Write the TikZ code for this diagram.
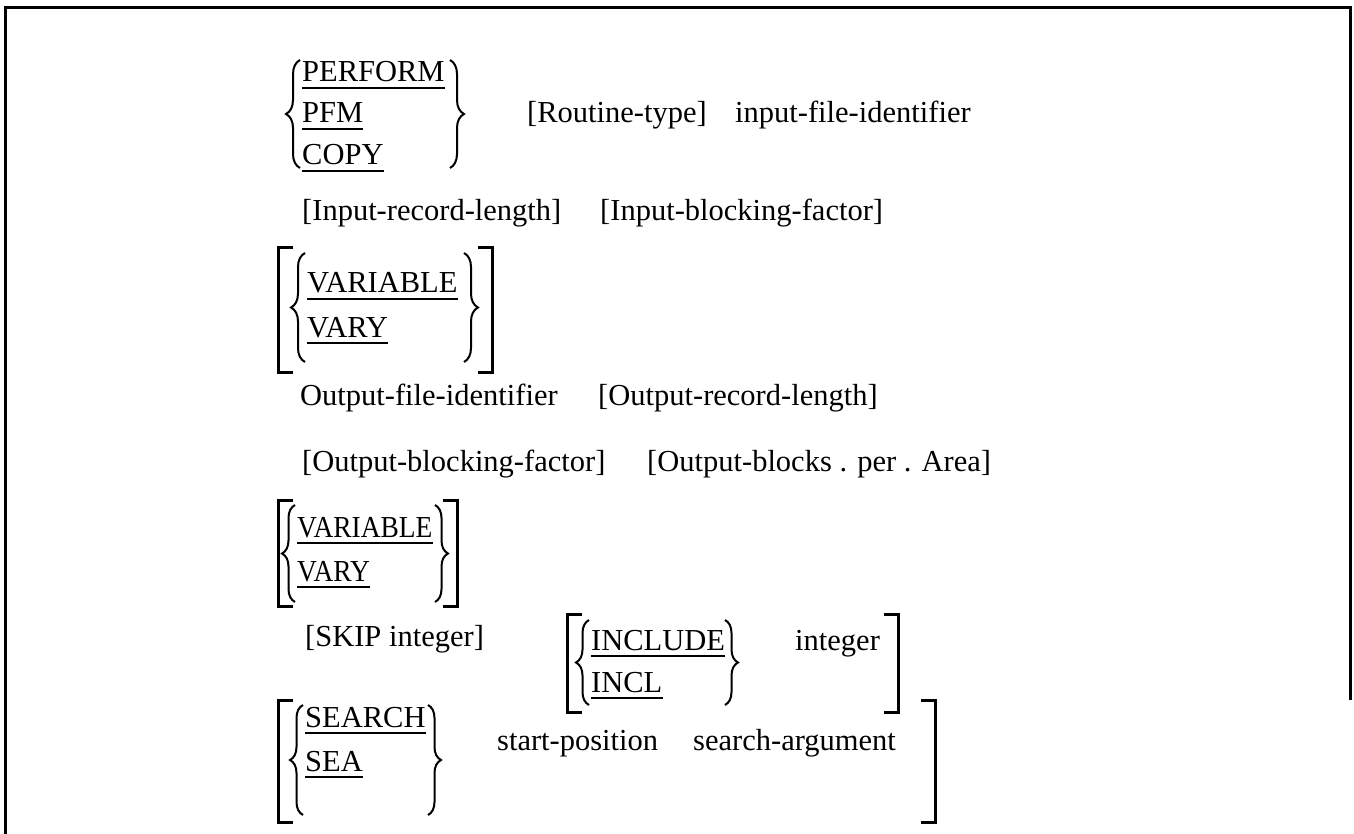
\documentclass[tikz,border=0pt]{standalone}
\usepackage{graphicx}
\usepackage{fontspec}
\setmainfont{Liberation Serif}
\usetikzlibrary{decorations.pathreplacing}
\begin{document}
\begin{tikzpicture}[x=1pt,y=-1pt,
  txt/.style={anchor=base west,inner sep=0pt,font=\fontsize{30.5}{36}\selectfont},
  ul/.style={line width=2.4pt},
  frame/.style={line width=3pt},
  brk/.style={line width=3pt},
  brc/.style={decorate,decoration={brace,amplitude=#1},line width=2pt},
]
\useasboundingbox (0,0) rectangle (1354,834);
\draw[frame] (5,834) -- (5,8) -- (1350,8) -- (1350,700);

% texts
\node[txt] (perform) at (302,82) {PERFORM};
\node[txt] (pfm) at (302,123) {PFM};
\node[txt] (copy) at (302,165) {COPY};
\node[txt] (rtype) at (527,123) {[Routine-type]};
\node[txt] (ifid) at (735,123) {input-file-identifier};
\node[txt] (irl) at (302,221) {[Input-record-length]};
\node[txt] (ibf) at (600,221) {[Input-blocking-factor]};
\node[txt] (varA) at (307,293) {VARIABLE};
\node[txt] (varyA) at (307,337) {VARY};
\node[txt] (ofid) at (300,405) {Output-file-identifier};
\node[txt] (orl) at (598,405) {[Output-record-length]};
\node[txt] (obf) at (302,471) {[Output-blocking-factor]};
\node[txt] (obpa) at (647,471) {[Output-blocks . per . Area]};
\node[txt] (varB) at (297,537) {\scalebox{0.9}[1]{VARIABLE}};
\node[txt] (varyB) at (297,581) {\scalebox{0.9}[1]{VARY}};
\node[txt] (skip) at (305,646) {[SKIP integer]};
\node[txt] (inclA) at (591,650) {INCLUDE};
\node[txt] (inclB) at (591,692) {INCL};
\node[txt] (int) at (795,650) {integer};
\node[txt] (search) at (305,727) {SEARCH};
\node[txt] (sea) at (305,771) {SEA};
\node[txt] (spos) at (497,750) {start-position};
\node[txt] (sarg) at (693,750) {search-argument};

% underlines
\foreach \n in {perform,pfm,copy,varA,varyA,varB,varyB,inclA,inclB,search,sea}
  \draw[ul] ([yshift=-6pt]\n.base west) -- ([yshift=-6pt]\n.base east);

% braces
\draw[brc=14] (300,168) -- (300,60);
\draw[brc=14] (450,60) -- (450,168);
\draw[brc=14] (305,362) -- (305,253);
\draw[brc=14] (464,253) -- (464,362);
\draw[brc=13] (295,602) -- (295,505);
\draw[brc=13] (435,505) -- (435,602);
\draw[brc=13] (589,705) -- (589,620);
\draw[brc=13] (725,620) -- (725,705);
\draw[brc=13] (303,815) -- (303,705);
\draw[brc=13] (428,705) -- (428,815);

% brackets
\draw[brk] (293,248) -- (278,248) -- (278,372) -- (293,372);
\draw[brk] (478,248) -- (492,248) -- (492,372) -- (478,372);
\draw[brk] (293,500) -- (278,500) -- (278,606) -- (293,606);
\draw[brk] (443,500) -- (457,500) -- (457,606) -- (443,606);
\draw[brk] (582,614) -- (567,614) -- (567,712) -- (582,712);
\draw[brk] (884,614) -- (898,614) -- (898,712) -- (884,712);
\draw[brk] (293,700) -- (278,700) -- (278,822) -- (293,822);
\draw[brk] (921,700) -- (935,700) -- (935,822) -- (921,822);
\end{tikzpicture}
\end{document}
